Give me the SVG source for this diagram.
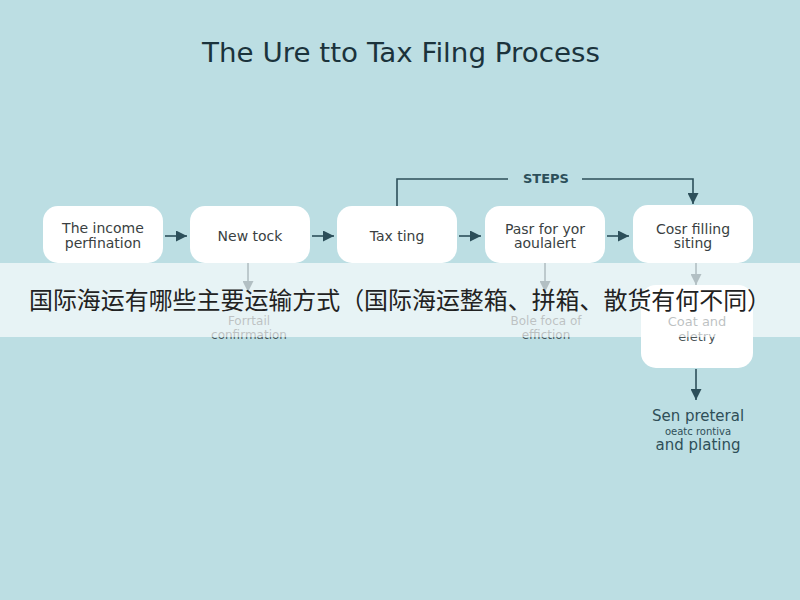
<svg xmlns="http://www.w3.org/2000/svg" width="800" height="600" viewBox="0 0 800 600">
<defs>
<style>
.bg{fill:#bcdee3}
.node{fill:#ffffff}
.nt{font-family:"DejaVu Sans","Liberation Sans",sans-serif;font-size:14px;fill:#3a3f42;text-anchor:middle}
.lbl{font-family:"DejaVu Sans","Liberation Sans",sans-serif;font-size:12px;fill:#4a5558;text-anchor:middle}
.bt{font-family:"DejaVu Sans","Liberation Sans",sans-serif;fill:#2f4f58;text-anchor:middle}
.con{stroke:#2c4f5a;stroke-width:1.6;fill:none}
.title{font-family:"DejaVu Sans","Liberation Sans",sans-serif;font-size:26px;fill:#1b333c}
.steps{font-family:"DejaVu Sans","Liberation Sans",sans-serif;font-size:13px;font-weight:bold;fill:#2c4f5a;text-anchor:middle}
.band{fill:#ffffff;fill-opacity:0.64}
.cn{font-family:"Noto Sans CJK SC","Noto Sans",sans-serif;font-size:24px;fill:#222222}
</style>
<marker id="ah" viewBox="0 0 10 10" refX="10" refY="5" markerWidth="11" markerHeight="11" markerUnits="userSpaceOnUse" orient="auto">
<path d="M0,0 L10,5 L0,10 Z" fill="#2c4f5a"/>
</marker>
</defs>
<rect class="bg" x="0" y="0" width="800" height="600"/>
<text class="title" x="202" y="62" textLength="398" lengthAdjust="spacingAndGlyphs">The Ure tto Tax Filng Process</text>

<g id="connectors">
<line class="con" x1="165" y1="236" x2="187" y2="236" marker-end="url(#ah)"/>
<line class="con" x1="312" y1="236" x2="334" y2="236" marker-end="url(#ah)"/>
<line class="con" x1="459" y1="236" x2="481" y2="236" marker-end="url(#ah)"/>
<line class="con" x1="607" y1="236" x2="629" y2="236" marker-end="url(#ah)"/>
<polyline class="con" points="397,206 397,179 508,179"/>
<polyline class="con" points="582,179 693,179 693,204" marker-end="url(#ah)"/>
<line class="con" x1="248" y1="263" x2="248" y2="292" marker-end="url(#ah)"/>
<line class="con" x1="545" y1="263" x2="545" y2="292" marker-end="url(#ah)"/>
<line class="con" x1="696" y1="263" x2="696" y2="285" marker-end="url(#ah)"/>
<line class="con" x1="696" y1="369" x2="696" y2="400" marker-end="url(#ah)"/>
<text class="steps" x="546" y="183">STEPS</text>
</g>

<g id="n1"><rect class="node" x="43" y="206" width="120" height="57" rx="15"/>
<text class="nt" x="103" y="233">The income</text><text class="nt" x="103" y="248">perfination</text></g>
<g id="n2"><rect class="node" x="190" y="206" width="120" height="57" rx="15"/>
<text class="nt" x="250" y="241">New tock</text></g>
<g id="n3"><rect class="node" x="337" y="206" width="120" height="57" rx="15"/>
<text class="nt" x="397" y="241">Tax ting</text></g>
<g id="n4"><rect class="node" x="485" y="206" width="120" height="57" rx="15"/>
<text class="nt" x="545" y="234">Pasr for yor</text><text class="nt" x="545" y="248">aoulalert</text></g>
<g id="n5"><rect class="node" x="633" y="205" width="120" height="58" rx="15"/>
<text class="nt" x="693" y="234">Cosr filling</text><text class="nt" x="693" y="248">siting</text></g>
<g id="n6"><rect class="node" x="641" y="285" width="112" height="83" rx="15"/>
<text class="lbl" x="697" y="326" style="font-size:13px">Coat and</text><text class="lbl" x="697" y="341" style="font-size:13px">eletry</text></g>
<g id="l1"><text class="lbl" x="249" y="325">Forrtail</text><text class="lbl" x="249" y="339">confirmation</text></g>
<g id="l2"><text class="lbl" x="546" y="325">Bole foca of</text><text class="lbl" x="546" y="339">effiction</text></g>
<g id="n7"><text class="bt" x="698" y="421" style="font-size:15px">Sen preteral</text>
<text class="bt" x="698" y="435" style="font-size:10px">oeatc rontiva</text>
<text class="bt" x="698" y="450" style="font-size:15px">and plating</text></g>

<rect class="band" x="0" y="263" width="800" height="74"/>
<text class="cn" x="29" y="309" textLength="742" lengthAdjust="spacingAndGlyphs">国际海运有哪些主要运输方式（国际海运整箱、拼箱、散货有何不同）</text>
</svg>
